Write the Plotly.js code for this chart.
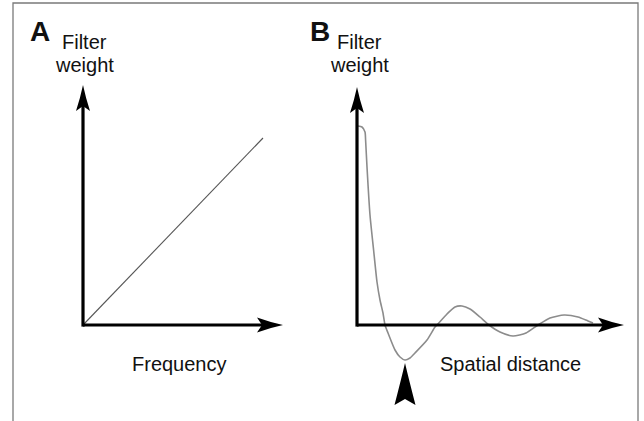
<!DOCTYPE html>
<html>
<head>
<meta charset="utf-8">
<script src="https://cdn.plot.ly/plotly-3.0.1.min.js"></script>
<style>html,body{margin:0;padding:0;background:#fff;}#chart{width:644px;height:421px;}</style>
</head>
<body>
<div id="chart"></div>
<script>
// Panel A: filter weight rises linearly with frequency
const freqA = [0, 9.0];
const weightA = [0, 9.35];

// Panel B: filter weight versus spatial distance (damped oscillation)
const distB = [0.05, 0.25, 0.4, 0.43, 0.5, 0.65, 0.83, 1.0, 1.15, 1.3, 1.4, 1.55, 1.9, 2.15, 2.4, 2.65, 2.9, 3.5, 3.9, 4.0, 4.5, 4.9, 5.25, 5.65, 6.15, 6.6, 7.15, 7.8, 8.45, 9.05, 9.65, 10.35, 11.05, 11.55, 11.8];
const weightB = [9.95, 9.9, 9.65, 9.25, 7.9, 5.5, 3.75, 2.15, 1.25, 0.6, 0, -0.4, -1.25, -1.6, -1.75, -1.65, -1.4, -0.75, -0.1, 0, 0.55, 0.9, 0.95, 0.8, 0.4, 0, -0.35, -0.55, -0.4, 0, 0.35, 0.5, 0.4, 0.2, 0.1];

// Axis arrow lengths (data units)
const axisA = {x: 10.0, y: 12.0};
const axisB = {x: 13.35, y: 11.9};

const W = 644, H = 421;
const px = v => v / W;
const py = v => 1 - v / H;
const FONT = 'Arial, "Liberation Sans", Helvetica, sans-serif';

const traces = [
  {x: freqA, y: weightA, xaxis: 'x', yaxis: 'y', type: 'scatter', mode: 'lines',
   line: {color: '#555555', width: 1.1}, hoverinfo: 'skip'},
  {x: distB, y: weightB, xaxis: 'x2', yaxis: 'y', type: 'scatter', mode: 'lines',
   line: {color: '#8c8c8c', width: 1.6, shape: 'spline', smoothing: 0.6}, hoverinfo: 'skip'}
];

const hideAx = {visible: false, showgrid: false, zeroline: false, fixedrange: true};

const arrowRight = 'M0,0 Q-12,-2.5 -26,-7.5 L-21,0 L-26,7.5 Q-12,2.5 0,0 Z';
const arrowUp = 'M0,0 Q-2.5,-12 -7,-26 L0,-21 L7,-26 Q2.5,-12 0,0 Z';
const pointerUp = 'M0,-3 Q-4,-20 -10.5,-45 L0,-39 L10.5,-45 Q4,-20 0,-3 Z';

let minIdx = 0;
weightB.forEach((v, i) => { if (v < weightB[minIdx]) minIdx = i; });

function axisShapes(xr, yr, lenX, lenY) {
  return [
    {type: 'line', xref: xr, yref: yr, x0: 0, y0: 0, x1: lenX - 1.05, y1: 0,
     line: {color: '#000', width: 3.2}},
    {type: 'line', xref: xr, yref: yr, x0: 0, y0: -0.08, x1: 0, y1: lenY - 1.05,
     line: {color: '#000', width: 3.2}},
    {type: 'path', xref: xr, yref: yr, xsizemode: 'pixel', ysizemode: 'pixel',
     xanchor: lenX, yanchor: 0, path: arrowRight, fillcolor: '#000', line: {width: 0}},
    {type: 'path', xref: xr, yref: yr, xsizemode: 'pixel', ysizemode: 'pixel',
     xanchor: 0, yanchor: lenY, path: arrowUp, fillcolor: '#000', line: {width: 0}}
  ];
}

const shapes = [
  {type: 'rect', xref: 'paper', yref: 'paper', x0: px(13), x1: px(638), y0: -0.05, y1: py(3),
   line: {color: '#7a7a7a', width: 1.3}, fillcolor: 'rgba(0,0,0,0)'},
  ...axisShapes('x', 'y', axisA.x, axisA.y),
  ...axisShapes('x2', 'y', axisB.x, axisB.y),
  {type: 'path', xref: 'x2', yref: 'y', xsizemode: 'pixel', ysizemode: 'pixel',
   xanchor: distB[minIdx], yanchor: weightB[minIdx], path: pointerUp, fillcolor: '#000', line: {width: 0}}
];

function txt(text, x, y, size, bold) {
  return {text: bold ? '<b>' + text + '</b>' : text, xref: 'paper', yref: 'paper',
    x: px(x), y: py(y), xanchor: 'center', yanchor: 'middle', showarrow: false,
    font: {family: FONT, size: size, color: '#111111'}};
}

const annotations = [
  txt('A', 39.5, 31.5, 28, true),
  txt('B', 320, 31.5, 28, true),
  txt('Filter', 84, 42, 20),
  txt('weight', 84, 65, 20),
  txt('Filter', 359, 42, 20),
  txt('weight', 359, 65, 20),
  txt('Frequency', 180, 364, 20),
  txt('Spatial distance', 510, 364, 20)
];

const layout = {
  width: W, height: H,
  margin: {l: 0, r: 0, t: 0, b: 0, pad: 0},
  paper_bgcolor: '#ffffff', plot_bgcolor: '#ffffff',
  showlegend: false,
  xaxis: Object.assign({domain: [0, 0.5], range: [-83 / 20, (322 - 83) / 20], anchor: 'y'}, hideAx),
  xaxis2: Object.assign({domain: [0.5, 1], range: [-35 / 20, (644 - 357) / 20], anchor: 'y'}, hideAx),
  yaxis: Object.assign({domain: [0, 1], range: [-(421 - 325) / 20, 325 / 20]}, hideAx),
  shapes: shapes,
  annotations: annotations
};

Plotly.newPlot('chart', traces, layout, {staticPlot: true, displayModeBar: false});
</script>
</body>
</html>
